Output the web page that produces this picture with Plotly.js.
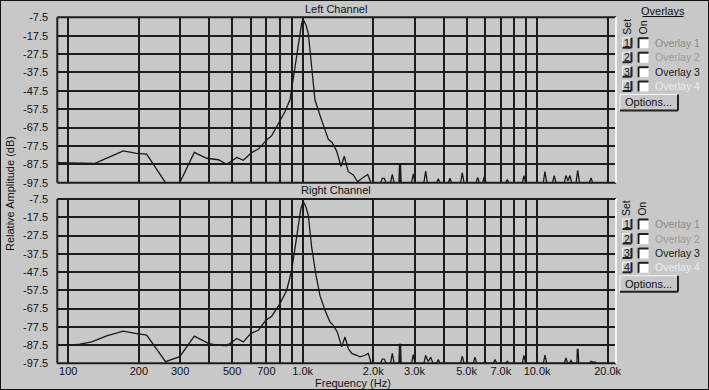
<!DOCTYPE html>
<html><head><meta charset="utf-8">
<script src="https://cdn.plot.ly/plotly-3.0.1.min.js"></script>
<style>html,body{margin:0;padding:0;background:#c8c8c8;} #chart{width:709px;height:390px;}</style>
</head><body><div id="chart"></div>
<script>
// ---------- data ----------
const xTickVals = [100,200,300,400,500,600,700,800,900,1000,2000,3000,4000,5000,6000,7000,8000,9000,10000,20000];
const xTickText = ['100','200','300','','500','','700','','','1.0k','2.0k','3.0k','','5.0k','','7.0k','','','10.0k','20.0k'];
const yTickVals = [-97.5,-87.5,-77.5,-67.5,-57.5,-47.5,-37.5,-27.5,-17.5,-7.5];
const yTickText = ['-97.5','-87.5','-77.5','-67.5','-57.5','-47.5','-37.5','-27.5','-17.5','-7.5'];
const panelTitles = ['Left Channel','Right Channel'];
const overlayLabels = ['Overlay 1','Overlay 2','Overlay 3','Overlay 4'];
const overlayColors = ['#8a8a8a','#9c9c9c','#1a1a1a','#ececec'];

// Left channel: main body
const leftBodyFreq = [89.8,102.7,118.6,130,171.7,195.8,216,260,299,320,345,389,437,474,524,558,606,647,702,738,787,840,883,900,927,958,990,1003,1033,1057,1092,1128,1205,1286,1337,1397,1457,1505,1565,1644,1717,1785,1894,1956];
const leftBodyDb   = [-86.6,-86.6,-86.9,-87,-80.2,-81.5,-82,-97.5,-97.5,-89.7,-81,-84.2,-85,-87.5,-83.8,-85.3,-81.1,-79.2,-74.2,-71.9,-65.4,-58.9,-52.4,-45,-34.4,-21.7,-10.8,-8.5,-11.7,-16.2,-34.4,-52.4,-63.6,-73.8,-75.7,-80.3,-88.7,-83.1,-91.5,-93.3,-97,-95.2,-93,-97.5];
// Left channel: harmonic spikes above the floor
const leftSpikeFreq = [2150,2185,2230,2270,2370,2412,2455,2575,2590,2605,2615,2630,2915,2964,3015,3290,3347,3405,3725,3789,3855,4180,4250,4320,4715,4797,4880,5490,5580,5670,5855,5953,6050,7340,7464,7590,8650,8794,8940,10630,10807,10990,11640,11840,12040,13060,13283,13540,13813,14050,14660,14906,15160,16700,16982,17270,21710];
const leftSpikeDb   = [-97.5,-95.2,-95.2,-97.5,-97.5,-93,-97.5,-97.5,-86.8,-97.5,-86.8,-97.5,-97.5,-92.7,-97.5,-97.5,-91.2,-97.5,-97.5,-95.4,-97.5,-97.5,-95.1,-97.5,-97.5,-92.1,-97.5,-97.5,-94.6,-97.5,-97.5,-94.2,-97.5,-97.5,-95.8,-97.5,-97.5,-93.6,-97.5,-97.5,-91.4,-97.5,-97.5,-93.6,-97.5,-97.5,-93.6,-96.5,-93.6,-97.5,-97.5,-90.8,-97.5,-97.5,-94.9,-97.5,-97.5];

// Right channel: main body
const rightBodyFreq = [89.8,100,112.2,125.9,145.8,171.7,195.8,216,260,299,345,395.6,415.6,474,524,558,600,647,697,738,800,855,898,927,958,983,1006,1033,1057,1092,1140,1185,1245,1308,1351,1405,1467,1515,1565,1619,1700,1756,1845,1905,1960];
const rightBodyDb   = [-87.5,-87.5,-87,-85.8,-82.5,-79.9,-81.2,-82.1,-96.6,-93.9,-82.6,-86.6,-87.2,-87.9,-83.9,-85.8,-81.2,-79.4,-73.9,-71.7,-64.8,-57.5,-46.5,-33.8,-21,-12.7,-8.8,-11.9,-16.4,-33.8,-49.3,-60.3,-68.5,-74.9,-76.7,-80.3,-88.5,-83,-89.4,-92.1,-93.1,-94,-93.1,-92.1,-97.5];
// Right channel: harmonic spikes above the floor
const rightSpikeFreq = [2150,2185,2230,2270,2370,2412,2455,2575,2590,2605,2615,2630,2915,2964,3015,3290,3347,3430,3516,3600,3725,3789,3855,4715,4797,4880,5340,5433,5525,5895,5995,6095,6500,6614,6730,7340,7464,7590,8650,8794,8940,10630,10807,10990,13060,13283,13500,13720,13950,14180,14790,14850,14960,15050,16700,16982,17300,17660,17950,21710];
const rightSpikeDb   = [-97.5,-95.2,-95.2,-97.5,-97.5,-92.1,-97.5,-97.5,-86.8,-97.5,-86.8,-97.5,-97.5,-92.7,-97.5,-97.5,-93.2,-96.5,-94.2,-97.5,-97.5,-95.4,-97.5,-97.5,-93.6,-97.5,-97.5,-94.2,-97.5,-97.5,-96.4,-97.5,-97.5,-95.4,-97.5,-97.5,-96.4,-97.5,-97.5,-93.2,-97.5,-97.5,-93,-97.5,-97.5,-94.6,-97.5,-97.5,-96,-97.5,-97.5,-89.9,-89.9,-97.5,-97.5,-96.4,-96.9,-96.7,-97.5,-97.5];

// ---------- layout helpers ----------
const W = 709, H = 390;
const px = x => x / W;
const py = y => 1 - y / H;
const FONT = 'Liberation Sans, Arial, sans-serif';
const BG = '#c8c8c8';
const DARK = '#1c1c1c';

const traces = [
  {x: leftBodyFreq.concat(leftSpikeFreq), y: leftBodyDb.concat(leftSpikeDb), xaxis:'x', yaxis:'y'},
  {x: rightBodyFreq.concat(rightSpikeFreq), y: rightBodyDb.concat(rightSpikeDb), xaxis:'x2', yaxis:'y2'}
].map(t => Object.assign(t, {type:'scatter', mode:'lines', line:{color:'#1a1a1a', width:1.3}, hoverinfo:'skip', showlegend:false}));

const xRange = [Math.log10(89.8), Math.log10(21710)];
const xDomain = [px(57.3), px(616)];
function xAx(showLabels) {
  return {type:'log', range:xRange, domain:xDomain, tickvals:xTickVals, ticktext:xTickText,
    showticklabels:showLabels, showgrid:true, gridcolor:DARK, gridwidth:2, zeroline:false, showline:false,
    ticks:'', tickfont:{family:FONT, size:11, color:'#111'}, automargin:false, fixedrange:true};
}
function yAx(domain) {
  return {range:[-97.5,-7.5], domain:domain, tickvals:yTickVals, ticktext:yTickText,
    showgrid:true, gridcolor:DARK, gridwidth:2, zeroline:false, showline:false,
    ticks:'outside', ticklen:6, tickcolor:'rgba(0,0,0,0)', tickfont:{family:FONT, size:11, color:'#111'}, automargin:false, fixedrange:true};
}

const shapes = [];
const annotations = [];
function line(x0,y0,x1,y1,color,width,xref,yref){
  shapes.push({type:'line', x0, y0, x1, y1, xref:xref||'paper', yref:yref||'paper', line:{color, width}, layer:'above'});
}
function rect(x0,y0,x1,y1,fill){
  shapes.push({type:'rect', x0:px(x0), x1:px(x1), y0:py(y0), y1:py(y1), xref:'paper', yref:'paper', fillcolor:fill, line:{width:0}, layer:'above'});
}
function text(t,x,y,opts){
  annotations.push(Object.assign({text:t, x:px(x), y:py(y), xref:'paper', yref:'paper', showarrow:false,
    xanchor:'center', yanchor:'middle', font:{family:FONT, size:11, color:'#111'}}, opts||{}));
}

// plot frames (sunken look)
[['x','y'],['x2','y2']].forEach(([xa,ya]) => {
  const xr = xa + ' domain', yr = ya + ' domain';
  line(0,0,0,1,DARK,2,xr,yr);
  line(0,1,1,1,DARK,2,xr,yr);
  line(0,0,1,0,DARK,2,xr,yr);
  line(1,0,1,1,'#f4f4f4',2,xr,yr);
});

// titles
text(panelTitles[0], 336, 8.5);
text(panelTitles[1], 336, 190);
text('Frequency (Hz)', 353, 383);
text('Relative Amplitude (dB)', 10, 194, {textangle:-90});

// overlay panel
text('Overlays', 663, 11, {font:{family:FONT, size:11, color:'#111'}});
line(px(642.5), py(16.5), px(683.5), py(16.5), '#111', 1);

function overlayPanel(dy) {
  text('Set', 626.7, 27 + dy, {textangle:-90, font:{family:FONT, size:10.5, color:'#111'}});
  text('On', 642.5, 28 + dy, {textangle:-90, font:{family:FONT, size:10.5, color:'#111'}});
  const rows = [42.7, 57.2, 71.7, 86];
  rows.forEach((cy, i) => {
    const y0 = cy - 5 + dy, y1 = cy + 5 + dy;
    // raised number button
    rect(622.5, y0, 631, y1, BG);
    line(px(622.5), py(y0), px(631), py(y0), '#f4f4f4', 1);
    line(px(622.5), py(y0), px(622.5), py(y1), '#f4f4f4', 1);
    line(px(622.5), py(y1), px(631.5), py(y1), '#202020', 2);
    line(px(631.5), py(y0), px(631.5), py(y1), '#202020', 2);
    text(String(i + 1), 626.8, cy + dy, {font:{family:FONT, size:10.5, color:'#111'}});
    // checkbox
    rect(637.5, y0, 648.5, y1 + 0.5, '#ffffff');
    line(px(638.5), py(y0 + 0.5), px(648.5), py(y0 + 0.5), '#202020', 2);
    line(px(638.5), py(y0), px(638.5), py(y1 + 0.5), '#202020', 2);
    // label
    text(overlayLabels[i], 653, cy + dy, {xanchor:'left', font:{family:FONT, size:10.5, color:overlayColors[i]}});
  });
  // Options button
  const oy0 = 94.5 + dy, oy1 = 110.5 + dy;
  rect(620, oy0, 677.5, oy1, BG);
  line(px(620), py(oy0), px(677.5), py(oy0), '#f4f4f4', 1);
  line(px(620), py(oy0), px(620), py(oy1), '#f4f4f4', 1);
  line(px(620), py(oy1), px(678), py(oy1), '#202020', 2);
  line(px(678), py(oy0), px(678), py(oy1), '#202020', 2);
  text('Options...', 648.5, 102.5 + dy, {font:{family:FONT, size:11, color:'#111'}});
}
overlayPanel(0);
overlayPanel(181.3);

// outer frame
shapes.push({type:'rect', x0:0, x1:1, y0:0, y1:1, xref:'paper', yref:'paper', line:{color:'#111', width:2}, layer:'above'});

const layout = {
  width: W, height: H,
  margin: {l:0, r:0, t:0, b:0, pad:0},
  paper_bgcolor: BG, plot_bgcolor: BG,
  showlegend: false,
  xaxis: xAx(false),
  yaxis: yAx([py(182.7), py(17.3)]),
  xaxis2: Object.assign(xAx(true), {anchor:'y2'}),
  yaxis2: Object.assign(yAx([py(363.3), py(199)]), {anchor:'x2'}),
  shapes: shapes,
  annotations: annotations,
  font: {family: FONT, size: 11, color: '#111'}
};
layout.xaxis.anchor = 'y';
layout.yaxis.anchor = 'x';

Plotly.newPlot('chart', traces, layout, {displayModeBar:false, staticPlot:true});
</script>
</body></html>
